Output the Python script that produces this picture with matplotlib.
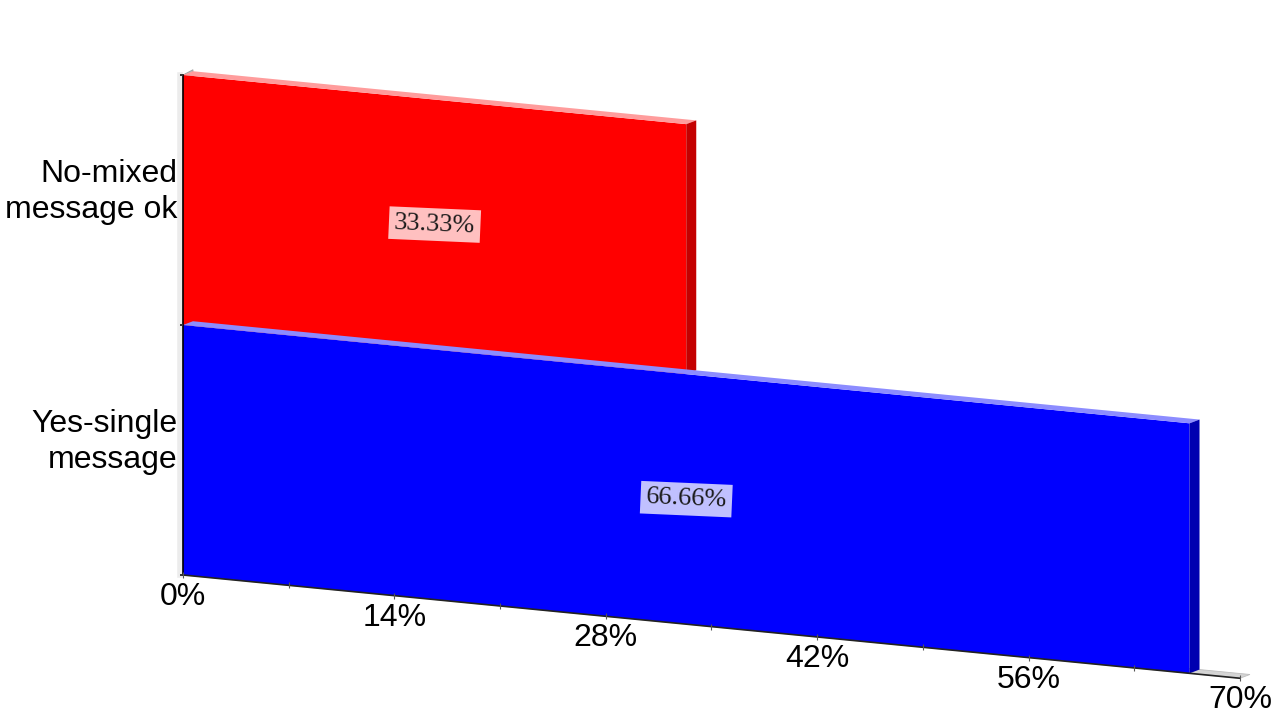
import numpy as np
import matplotlib
matplotlib.use("Agg")
import matplotlib.pyplot as plt
import matplotlib.transforms as mtransforms
from matplotlib.patches import Polygon

# ---- data ----
categories = ["Yes-single\nmessage", "No-mixed\nmessage ok"]
values = [66.66, 33.33]
value_labels = ["66.66%", "33.33%"]
tick_values = [0, 14, 28, 42, 56, 70]
tick_labels = ["0%", "14%", "28%", "42%", "56%", "70%"]

# ---- styles ----
front_colors = ["#0000ff", "#ff0000"]
top_colors = ["#8c8cff", "#ff9c9c"]
side_colors = ["#0000b0", "#c40000"]
label_bg = ["#c0c0ff", "#ffc0c0"]

plt.rcParams['font.family'] = ['Liberation Sans', 'DejaVu Sans']

fig = plt.figure(figsize=(12.8, 7.2), dpi=100)
ax = fig.add_axes([0, 0, 1, 1])
ax.set_xlim(-12.12, 72.65)
ax.set_ylim(-0.58, 2.3)
ax.axis("off")

k = 0.0059  # perspective shear
shear = mtransforms.Affine2D(np.array([[1, 0, 0], [-k, 1, 0], [0, 0, 1]]))
tr = shear + ax.transData

DX = 0.66
DY = 0.019
H = 1.0
XMAX = 70


def off(dx_px, dy_px):
    return tr + mtransforms.ScaledTranslation(dx_px / 100, dy_px / 100, fig.dpi_scale_trans)


# floor
ax.add_patch(Polygon([(0, 0), (XMAX, 0), (XMAX + DX, DY), (DX, DY)],
                     closed=True, facecolor="#d4d4d4", edgecolor="#bdbdbd", lw=0.6,
                     transform=tr, zorder=1))
# left wall
n = len(categories)
ax.add_patch(Polygon([(0, 0), (0, n), (DX, n + DY + 0.006), (DX, DY)],
                     closed=True, facecolor="#b8b8b8", edgecolor="#a0a0a0", lw=0.6,
                     transform=tr, zorder=1))
# wall shading
ax.plot([0, 0], [0, n], color="#ececec", lw=4, transform=off(-3, 0), zorder=1)

# bars (draw upper category first so lower bar's top face lies on it)
order = list(range(n))[::-1]
for i in order:
    yc = i + 0.5
    v = values[i]
    y0, y1 = yc - H / 2, yc + H / 2
    ax.barh([yc], [v], height=H, color=front_colors[i], transform=tr,
            zorder=3 + (n - i))
    ax.add_patch(Polygon([(0, y1), (v, y1), (v + DX, y1 + DY), (DX, y1 + DY)],
                         closed=True, facecolor=top_colors[i], edgecolor="none",
                         transform=tr, zorder=3 + (n - i)))
    ax.add_patch(Polygon([(v, y0), (v, y1), (v + DX, y1 + DY), (v + DX, y0 + DY)],
                         closed=True, facecolor=side_colors[i], edgecolor="none",
                         transform=tr, zorder=3 + (n - i)))
    ax.text(v / 2, yc, value_labels[i], transform=tr, ha="center", va="center",
            rotation=-2.5, rotation_mode="anchor",
            family=["Liberation Serif", "DejaVu Serif"], fontsize=19, color="#1a1a1a",
            bbox=dict(boxstyle="square,pad=0.2", facecolor=label_bg[i], edgecolor="none"),
            zorder=10)
    ax.text(0, yc, categories[i], transform=off(-6, 8), ha="right", va="center",
            fontsize=23, color="black", linespacing=1.25, zorder=10)

# axes lines
ax.plot([0, XMAX], [0, 0], color="#222222", lw=1.2, transform=tr, zorder=8)
ax.plot([0, 0], [0, n], color="black", lw=1.2, transform=tr, zorder=8)
for yv in range(n + 1):
    ax.plot([0, 0], [yv, yv], color="#333333", lw=1.2, transform=tr, zorder=8,
            marker=[(-5, 0), (0, 0)], markersize=5, markeredgewidth=1.2)

# x ticks + minor ticks
for t in np.arange(0, XMAX + 0.1, 7):
    ax.plot([t], [0], transform=tr, marker="|", markersize=5, color="#555555",
            markeredgewidth=0.8, zorder=9)
for t, lab in zip(tick_values, tick_labels):
    ax.text(t, 0, lab, transform=off(0, -7), ha="center", va="top",
            fontsize=23, color="black", zorder=10)

fig.savefig("out.png", dpi=100)
